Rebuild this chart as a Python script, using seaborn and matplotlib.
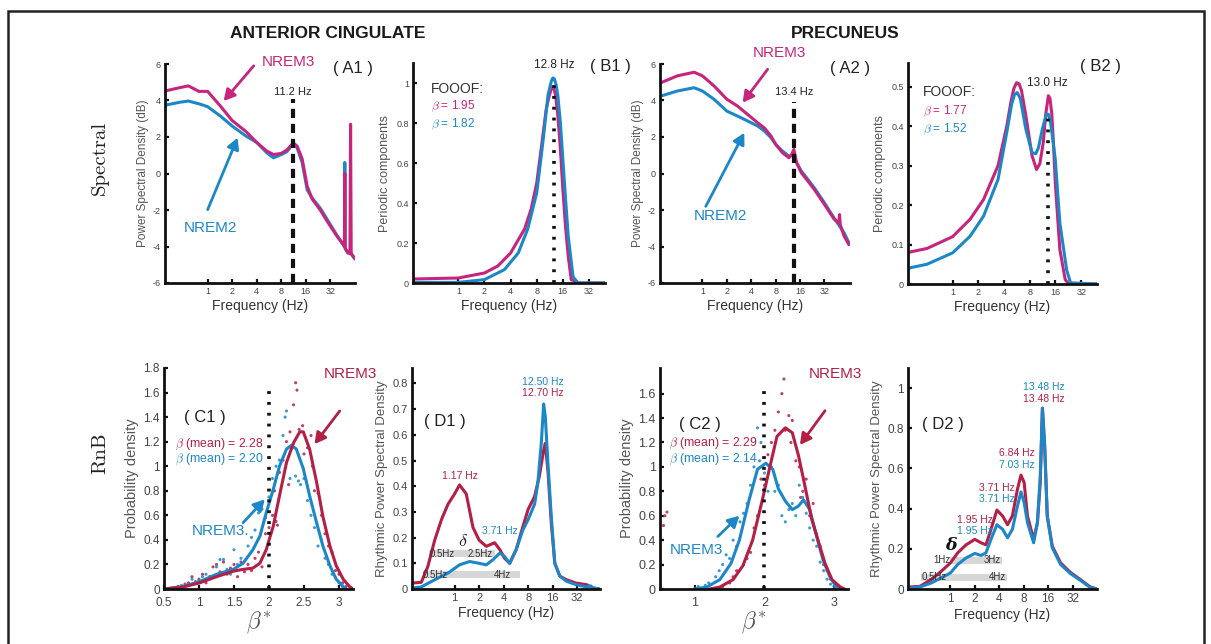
import matplotlib
matplotlib.use("Agg")
import matplotlib.pyplot as plt
import seaborn as sns
import pandas as pd
from matplotlib.patches import Rectangle

# ---------------- DATA ----------------
FREQ_TICKS = [1, 2, 4, 8, 16, 32]
FREQ_TICK_LABELS = ["1", "2", "4", "8", "16", "32"]
A_YTICKS = [-6, -4, -2, 0, 2, 4, 6]
B1_YTICKS = [0, 0.2, 0.4, 0.6, 0.8, 1]
B1_YTICK_LABELS = ["0", "0.2", "0.4", "0.6", "0.8", "1"]
B2_YTICKS = [0, 0.1, 0.2, 0.3, 0.4, 0.5]
B2_YTICK_LABELS = ["0", "0.1", "0.2", "0.3", "0.4", "0.5"]
C1_XTICKS = [0.5, 1, 1.5, 2, 2.5, 3]
C1_XTICK_LABELS = ["0.5", "1", "1.5", "2", "2.5", "3"]
C1_YTICKS = [0, 0.2, 0.4, 0.6, 0.8, 1, 1.2, 1.4, 1.6, 1.8]
C1_YTICK_LABELS = ["0", "0.2", "0.4", "0.6", "0.8", "1", "1.2", "1.4", "1.6", "1.8"]
C2_XTICKS = [1, 2, 3]
C2_XTICK_LABELS = ["1", "2", "3"]
C2_YTICKS = [0, 0.2, 0.4, 0.6, 0.8, 1, 1.2, 1.4, 1.6]
C2_YTICK_LABELS = ["0", "0.2", "0.4", "0.6", "0.8", "1", "1.2", "1.4", "1.6"]
D1_YTICKS = [0, 0.1, 0.2, 0.3, 0.4, 0.5, 0.6, 0.7, 0.8]
D1_YTICK_LABELS = ["0", "0.1", "0.2", "0.3", "0.4", "0.5", "0.6", "0.7", "0.8"]
D2_YTICKS = [0, 0.2, 0.4, 0.6, 0.8, 1]
D2_YTICK_LABELS = ["0", "0.2", "0.4", "0.6", "0.8", "1"]

# A1: anterior cingulate PSD (dB)
A1_N3_F = [0.30, 0.45, 0.58, 0.78, 1.0, 1.43, 2.0, 2.95, 4.0, 5.3, 6.4, 8.0, 9.4, 10.8, 11.6, 12.5, 14.4,
           16.6, 19.1, 24, 30, 38, 46, 47.5, 48, 48.5, 52, 55.5, 56.5, 57.5, 62]
A1_N3_V = [4.52, 4.7, 4.8, 4.5, 4.5, 3.7, 2.9, 2.3, 1.7, 1.23, 1.04, 1.1, 1.3, 1.6, 1.62, 1.5, 0.8,
           -0.7, -1.4, -2.0, -2.7, -3.4, -3.9, -4.0, 0.0, -4.1, -4.3, -4.4, 2.7, -4.4, -4.6]
A1_N2_F = [0.30, 0.45, 0.58, 0.81, 1.0, 1.43, 2.0, 2.95, 4.0, 5.3, 6.4, 8.0, 9.4, 10.8, 11.6, 12.5, 14.4,
           16.6, 19.1, 24, 30, 38, 46, 47.5, 48, 48.5, 52, 58, 64]
A1_N2_V = [3.74, 3.9, 3.97, 3.8, 3.66, 3.15, 2.6, 2.05, 1.7, 1.14, 0.86, 1.04, 1.2, 1.55, 1.6, 1.4, 0.6,
           -0.9, -1.34, -1.9, -2.6, -3.35, -3.9, -4.0, 0.6, -4.1, -4.35, -4.4, -4.7]
A1_PEAK = 11.2

# B1: FOOOF periodic components
B1_N3_F = [0.3, 1, 2, 2.85, 4, 5.8, 6.9, 8, 9, 10.3, 11.2, 11.8, 12.2, 12.6, 13.2, 14, 15, 16, 17.2, 18.5,
           20, 24, 50]
B1_N3_V = [0.02, 0.025, 0.05, 0.085, 0.15, 0.27, 0.37, 0.5, 0.67, 0.87, 0.94, 0.97, 0.98, 0.975, 0.94, 0.84,
           0.67, 0.47, 0.28, 0.13, 0.017, 0.0, 0.0]
B1_N2_F = [0.3, 1, 2, 3.4, 4.9, 6.3, 8, 9.4, 10.8, 11.8, 12.3, 12.8, 13.4, 14, 15, 16, 17.2, 18.5, 21, 24, 50]
B1_N2_V = [0.003, 0.003, 0.017, 0.067, 0.15, 0.27, 0.45, 0.7, 0.94, 1.01, 1.025, 1.02, 0.99, 0.94, 0.8, 0.62,
           0.42, 0.23, 0.03, 0.0, 0.0]
B1_PEAK = 12.8

# A2: precuneus PSD (dB)
A2_N3_F = [0.31, 0.49, 0.79, 1.0, 1.39, 2.0, 2.7, 3.6, 4.8, 5.8, 7.0, 8.0, 9.7, 11.7, 12.6, 13.4, 14.5,
           16.6, 20, 24, 32, 42, 48, 49, 50, 56, 64]
A2_N3_V = [4.98, 5.35, 5.55, 5.35, 4.8, 4.07, 3.7, 3.24, 2.78, 2.5, 2.05, 1.6, 1.14, 0.86, 1.04, 1.32, 0.59,
           0.04, -0.42, -0.88, -1.7, -2.5, -2.7, -2.25, -2.8, -3.44, -3.9]
A2_N2_F = [0.31, 0.49, 0.79, 1.0, 1.39, 2.0, 2.7, 3.6, 4.8, 5.8, 7.0, 8.0, 9.7, 11.7, 12.6, 13.4, 14.5,
           16.6, 20, 24, 32, 42, 56, 64]
A2_N2_V = [4.25, 4.52, 4.7, 4.52, 4.07, 3.42, 3.15, 2.88, 2.6, 2.33, 1.96, 1.6, 1.23, 0.95, 0.99, 0.95, 0.59,
           0.13, -0.33, -0.79, -1.61, -2.44, -3.26, -3.8]
A2_PEAK = 13.4

# B2: FOOOF periodic components (precuneus)
B2_N3_F = [0.3, 0.5, 1, 1.6, 2.3, 3.4, 4.3, 4.8, 5.2, 5.6, 6.0, 6.4, 7.2, 8.5, 9.6, 10.5, 11.5, 12.3, 13.2,
           13.8, 14.5, 15.2, 15.9, 18, 20.8, 23, 50]
B2_N3_V = [0.08, 0.09, 0.12, 0.164, 0.214, 0.3, 0.4, 0.46, 0.495, 0.51, 0.507, 0.49, 0.426, 0.325, 0.29,
           0.305, 0.358, 0.43, 0.477, 0.47, 0.43, 0.35, 0.257, 0.087, 0.011, 0.0, 0.0]
B2_N2_F = [0.3, 0.5, 1, 1.6, 2.3, 3.4, 4.3, 4.9, 5.3, 5.7, 6.2, 7.2, 8.5, 9.4, 10.1, 11.3, 12.5, 13.2,
           13.9, 14.8, 15.9, 18, 21.6, 24, 50]
B2_N2_V = [0.04, 0.05, 0.079, 0.121, 0.172, 0.265, 0.384, 0.455, 0.48, 0.485, 0.47, 0.392, 0.333, 0.33,
           0.345, 0.395, 0.43, 0.43, 0.415, 0.37, 0.316, 0.155, 0.036, 0.003, 0.0]
B2_PEAK = 13.0

# C1: beta* distributions (anterior cingulate)
C1_N3_X = [0.5, 0.77, 1.01, 1.25, 1.49, 1.63, 1.77, 1.87, 1.96, 2.06, 2.15, 2.25, 2.35, 2.44, 2.49, 2.58,
           2.68, 2.77, 2.87, 2.96, 3.06, 3.15, 3.2]
C1_N3_Y = [0.0, 0.016, 0.05, 0.1, 0.145, 0.16, 0.17, 0.21, 0.32, 0.51, 0.76, 1.03, 1.19, 1.28, 1.28, 1.14,
           0.87, 0.59, 0.35, 0.19, 0.08, 0.02, 0.0]
C1_N2_X = [0.5, 0.77, 1.01, 1.25, 1.49, 1.63, 1.77, 1.87, 1.96, 2.06, 2.15, 2.25, 2.32, 2.39, 2.49, 2.58,
           2.68, 2.77, 2.87, 2.96, 3.06, 3.1]
C1_N2_Y = [0.0, 0.02, 0.06, 0.12, 0.16, 0.21, 0.32, 0.43, 0.62, 0.81, 1.0, 1.14, 1.17, 1.14, 0.98, 0.76,
           0.54, 0.35, 0.19, 0.08, 0.02, 0.0]
C1_N3_DOT_X = [0.6, 0.7, 0.75, 0.8, 0.85, 0.9, 0.95, 1.0, 1.05, 1.1, 1.15, 1.2, 1.25, 1.3, 1.35, 1.4, 1.45,
               1.5, 1.55, 1.6, 1.65, 1.7, 1.75, 1.8, 1.85, 1.9, 1.95, 2.0, 2.05, 2.08, 2.1, 2.12, 2.15, 2.2,
               2.25, 2.28, 2.3, 2.35, 2.38, 2.4, 2.43, 2.48, 2.5, 2.55, 2.6, 2.62, 2.65, 2.7, 2.75, 2.8,
               2.85, 2.9, 2.95, 3.0, 3.05, 3.1]
C1_N3_DOT_Y = [0.0, 0.02, 0.0, 0.04, 0.05, 0.1, 0.06, 0.08, 0.12, 0.05, 0.1, 0.18, 0.2, 0.14, 0.22, 0.12,
               0.17, 0.2, 0.1, 0.22, 0.14, 0.2, 0.15, 0.25, 0.3, 0.18, 0.45, 0.5, 0.6, 0.8, 0.55, 0.52, 0.95,
               1.05, 1.2, 0.85, 1.28, 1.5, 1.68, 1.62, 1.3, 1.33, 1.1, 1.15, 1.25, 1.0, 0.8, 0.78, 0.6,
               0.45, 0.35, 0.3, 0.15, 0.12, 0.05, 0.02]
C1_N2_DOT_X = [0.55, 0.65, 0.75, 0.85, 0.9, 1.0, 1.05, 1.1, 1.2, 1.25, 1.3, 1.35, 1.4, 1.45, 1.5, 1.55, 1.6,
               1.7, 1.75, 1.8, 1.85, 1.9, 1.95, 2.0, 2.05, 2.1, 2.15, 2.2, 2.23, 2.25, 2.3, 2.33, 2.38, 2.42,
               2.45, 2.5, 2.55, 2.6, 2.65, 2.7, 2.75, 2.8, 2.85, 2.9, 3.0, 3.05]
C1_N2_DOT_Y = [0.0, 0.01, 0.03, 0.04, 0.08, 0.07, 0.1, 0.12, 0.1, 0.18, 0.24, 0.24, 0.16, 0.12, 0.32, 0.2,
               0.25, 0.35, 0.42, 0.48, 0.62, 0.65, 0.58, 0.75, 0.9, 1.0, 1.05, 1.25, 1.4, 1.45, 0.9, 1.15,
               0.92, 0.88, 0.85, 0.9, 0.72, 0.6, 0.5, 0.35, 0.4, 0.25, 0.2, 0.12, 0.05, 0.02]
C1_N3_MEAN = "2.28"
C1_N2_MEAN = "2.20"

# D1: rhythmic power spectral density (anterior cingulate)
D1_N3_F = [0.3, 0.39, 0.47, 0.57, 0.69, 0.83, 1.0, 1.15, 1.39, 1.68, 2.0, 2.45, 3.1, 3.6, 4.1, 4.75, 5.7,
           6.9, 8.0, 9.6, 11.0, 12.4, 13.0, 14.0, 15.4, 17.0, 19.6, 23.7, 31, 41.6, 50, 61]
D1_N3_V = [0.023, 0.026, 0.088, 0.19, 0.27, 0.33, 0.37, 0.405, 0.37, 0.24, 0.19, 0.166, 0.18, 0.153, 0.12,
           0.1, 0.153, 0.243, 0.31, 0.36, 0.44, 0.54, 0.567, 0.46, 0.256, 0.1, 0.05, 0.036, 0.023, 0.017,
           0.004, 0.0]
D1_N2_F = [0.3, 0.39, 0.57, 0.83, 1.15, 1.53, 2.0, 2.45, 2.96, 3.6, 4.1, 4.75, 5.7, 6.9, 8.0, 9.6, 10.5,
           11.6, 12.4, 13.0, 14.0, 15.4, 17.0, 19.6, 23.7, 31, 41.6, 47, 50, 61]
D1_N2_V = [0.004, 0.008, 0.036, 0.062, 0.094, 0.107, 0.1, 0.094, 0.114, 0.14, 0.127, 0.1, 0.153, 0.23,
           0.27, 0.33, 0.41, 0.567, 0.72, 0.67, 0.49, 0.28, 0.1, 0.05, 0.03, 0.017, 0.008, 0.012, 0.004, 0.0]
D1_BAND_LO = [0.49, 0.41]
D1_BAND_HI = [3.1, 6.3]
D1_BAND_Y = [0.137, 0.056]

# C2: beta* distributions (precuneus)
C2_N3_X = [1.21, 1.36, 1.55, 1.69, 1.83, 1.97, 2.09, 2.18, 2.3, 2.4, 2.49, 2.59, 2.68, 2.78, 2.87, 2.97,
           3.09, 3.15]
C2_N3_Y = [0.0, 0.016, 0.077, 0.19, 0.4, 0.73, 1.03, 1.25, 1.32, 1.28, 1.09, 0.82, 0.57, 0.38, 0.21, 0.077,
           0.016, 0.0]
C2_N2_X = [1.0, 1.17, 1.36, 1.52, 1.64, 1.78, 1.9, 2.02, 2.12, 2.2, 2.3, 2.4, 2.49, 2.56, 2.65, 2.75, 2.84,
           2.94, 3.03, 3.12]
C2_N2_Y = [0.0, 0.016, 0.077, 0.21, 0.4, 0.73, 0.98, 1.03, 0.98, 0.82, 0.72, 0.65, 0.68, 0.73, 0.65, 0.43,
           0.24, 0.1, 0.02, 0.0]
C2_N3_DOT_X = [0.55, 0.57, 0.6, 1.3, 1.4, 1.5, 1.55, 1.6, 1.7, 1.75, 1.8, 1.85, 1.9, 1.95, 2.0, 2.05, 2.1,
               2.15, 2.2, 2.25, 2.28, 2.3, 2.35, 2.38, 2.4, 2.45, 2.5, 2.52, 2.55, 2.6, 2.65, 2.7, 2.72,
               2.75, 2.8, 2.85, 2.9, 2.95, 3.0, 3.05]
C2_N3_DOT_Y = [0.52, 0.6, 0.63, 0.0, 0.02, 0.05, 0.1, 0.15, 0.2, 0.25, 0.3, 0.5, 0.6, 0.9, 0.85, 1.1, 1.2,
               1.3, 1.45, 1.6, 1.72, 1.3, 1.42, 1.2, 1.38, 1.05, 1.0, 0.75, 0.8, 0.9, 0.6, 0.7, 0.5, 0.45,
               0.35, 0.2, 0.15, 0.08, 0.05, 0.02]
C2_N2_DOT_X = [1.0, 1.05, 1.1, 1.15, 1.2, 1.3, 1.35, 1.4, 1.45, 1.5, 1.55, 1.6, 1.65, 1.7, 1.75, 1.8, 1.85,
               1.9, 1.93, 1.95, 2.0, 2.05, 2.1, 2.15, 2.2, 2.25, 2.3, 2.35, 2.4, 2.45, 2.5, 2.55, 2.6, 2.65,
               2.7, 2.75, 2.8, 2.85, 2.9, 2.95, 3.0]
C2_N2_DOT_Y = [0.0, 0.02, 0.0, 0.03, 0.05, 0.1, 0.15, 0.2, 0.28, 0.25, 0.4, 0.35, 0.55, 0.62, 0.7, 0.85,
               1.0, 1.32, 1.05, 1.2, 0.95, 0.8, 1.0, 0.8, 0.85, 0.6, 0.55, 0.65, 0.7, 0.6, 0.85, 0.75, 0.62,
               0.5, 0.4, 0.35, 0.22, 0.15, 0.08, 0.04, 0.02]
C2_N3_MEAN = "2.29"
C2_N2_MEAN = "2.14"

# D2: rhythmic power spectral density (precuneus)
D2_N3_F = [0.3, 0.42, 0.58, 0.77, 1.0, 1.23, 1.56, 2.0, 2.38, 2.74, 3.16, 3.74, 4.4, 5.05, 5.8, 6.7, 7.4,
           8.1, 8.9, 10.6, 11.8, 12.8, 13.6, 14.5, 15.6, 18, 22.8, 30, 40, 53, 64]
D2_N3_V = [0.01, 0.013, 0.047, 0.088, 0.13, 0.18, 0.22, 0.247, 0.23, 0.22, 0.297, 0.393, 0.363, 0.32, 0.363,
           0.497, 0.567, 0.53, 0.363, 0.247, 0.33, 0.53, 0.9, 0.713, 0.363, 0.213, 0.13, 0.083, 0.047,
           0.01, 0.0]
D2_N2_F = [0.3, 0.42, 0.58, 0.77, 1.0, 1.23, 1.56, 2.0, 2.38, 2.74, 3.16, 3.74, 4.4, 5.05, 5.8, 6.7, 7.4,
           8.1, 8.9, 10.6, 11.8, 12.8, 13.6, 14.5, 15.6, 18, 22.8, 30, 40, 53, 64]
D2_N2_V = [0.005, 0.01, 0.03, 0.055, 0.08, 0.122, 0.155, 0.177, 0.167, 0.18, 0.247, 0.32, 0.297, 0.255,
           0.297, 0.413, 0.483, 0.43, 0.33, 0.23, 0.33, 0.563, 0.9, 0.713, 0.363, 0.205, 0.122, 0.077,
           0.043, 0.007, 0.0]
D2_BAND_LO = [1.0, 0.44]
D2_BAND_HI = [4.3, 5.0]
D2_BAND_Y = [0.142, 0.058]

# ---------------- STYLE ----------------
sns.set_theme(style="ticks")
plt.rcParams["font.family"] = ["Liberation Sans", "DejaVu Sans"]
plt.rcParams["mathtext.fontset"] = "cm"
plt.rcParams["axes.unicode_minus"] = False
plt.rcParams["xtick.direction"] = "in"
plt.rcParams["ytick.direction"] = "in"

MAG = "#C8247C"
BLU = "#1C87C8"
RED = "#B41F45"
BLK = "#111111"
GRY = "#555555"

W, H = 1211, 644
fig = plt.figure(figsize=(W / 100, H / 100), dpi=100)
fig.patch.set_facecolor("white")


def axes_px(x0, x1, y0, y1):
    return fig.add_axes([x0 / W, 1 - y1 / H, (x1 - x0) / W, (y1 - y0) / H])


def style_ax(ax, tick_fs, xpad=3):
    sns.despine(ax=ax)
    for s in ("left", "bottom"):
        ax.spines[s].set_linewidth(2.0)
        ax.spines[s].set_color(BLK)
    ax.tick_params(axis="both", which="major", length=3, width=1.6, color=BLK,
                   labelsize=tick_fs, labelcolor="#444444", pad=3)
    ax.tick_params(axis="x", pad=xpad)
    ax.tick_params(which="minor", length=0)
    ax.set_facecolor("white")
    ax.grid(False)


def freq_axis(ax, xlim):
    ax.set_xscale("log", base=2)
    ax.set_xlim(*xlim)
    ax.set_xticks(FREQ_TICKS)
    ax.set_xticklabels(FREQ_TICK_LABELS)
    ax.minorticks_off()


def line(ax, x, y, color, lw=2.2):
    df = pd.DataFrame({"x": x, "y": y})
    sns.lineplot(data=df, x="x", y="y", ax=ax, color=color, lw=lw, sort=False, estimator=None)
    ax.set_xlabel("")
    ax.set_ylabel("")


def arrow(ax, tail, head, color):
    ax.annotate("", xy=head, xytext=tail, annotation_clip=False,
                arrowprops=dict(arrowstyle="-|>,head_length=0.55,head_width=0.3", color=color, lw=2.0,
                                shrinkA=0, shrinkB=0))


# ---------- A1 ----------
ax = axes_px(165, 355, 64, 283)
line(ax, A1_N2_F, A1_N2_V, BLU)
line(ax, A1_N3_F, A1_N3_V, MAG)
freq_axis(ax, (0.3, 64))
ax.set_ylim(-6, 6)
ax.set_yticks(A_YTICKS)
style_ax(ax, 6.5)
ax.vlines(A1_PEAK, -6, 4.1, colors=BLK, lw=3, linestyles=(0, (2.2, 1.4)))
ax.text(A1_PEAK, 4.45, "11.2 Hz", ha="center", va="center", fontsize=8, color="#222222")
ax.text(9.9, 6.1, "NREM3", ha="center", va="center", fontsize=11, color=MAG, clip_on=False)
arrow(ax, (3.67, 5.9), (1.57, 3.97), MAG)
ax.text(1.08, -3.0, "NREM2", ha="center", va="center", fontsize=11, color=BLU)
arrow(ax, (1.0, -1.98), (2.33, 1.96), BLU)
ax.set_ylabel("Power Spectral Density (dB)", fontsize=8.5, color=GRY, labelpad=3)
ax.set_xlabel("Frequency (Hz)", fontsize=10, color="#333333", labelpad=2)
fig.text(353 / W, 1 - 68 / H, "( A1 )", ha="center", va="center", fontsize=12, color="#222222")

# ---------- B1 ----------
ax = axes_px(413, 605, 63, 283)
line(ax, B1_N3_F, B1_N3_V, MAG)
line(ax, B1_N2_F, B1_N2_V, BLU)
freq_axis(ax, (0.3, 49))
ax.set_ylim(0, 1.1)
ax.set_yticks(B1_YTICKS)
ax.set_yticklabels(B1_YTICK_LABELS)
style_ax(ax, 6.5)
ax.vlines(B1_PEAK, 0, 1.0, colors=BLK, lw=2.6, linestyles=(0, (0.8, 2.2)))
ax.text(B1_PEAK, 1.09, "12.8 Hz", ha="center", va="center", fontsize=8.5, color="#222222", clip_on=False)
ax.text(0.48, 0.97, "FOOOF:", ha="left", va="center", fontsize=10, color="#333333")
ax.text(0.48, 0.885, r"$\beta$ = 1.95", ha="left", va="center", fontsize=8.5, color=MAG)
ax.text(0.48, 0.795, r"$\beta$ = 1.82", ha="left", va="center", fontsize=8.5, color=BLU)
ax.set_ylabel("Periodic components", fontsize=9, color=GRY, labelpad=4)
ax.set_xlabel("Frequency (Hz)", fontsize=10, color="#333333", labelpad=2)
fig.text(610 / W, 1 - 67 / H, "( B1 )", ha="center", va="center", fontsize=12, color="#222222")

# ---------- A2 ----------
ax = axes_px(660, 850, 64, 283)
line(ax, A2_N2_F, A2_N2_V, BLU)
line(ax, A2_N3_F, A2_N3_V, MAG)
freq_axis(ax, (0.3, 66))
ax.set_ylim(-6, 6)
ax.set_yticks(A_YTICKS)
style_ax(ax, 6.5)
ax.vlines(A2_PEAK, -6, 3.9, colors=BLK, lw=3, linestyles=(0, (2.2, 1.4)))
ax.text(A2_PEAK, 4.45, "13.4 Hz", ha="center", va="center", fontsize=8, color="#222222")
ax.text(8.9, 6.6, "NREM3", ha="center", va="center", fontsize=11, color=MAG, clip_on=False)
arrow(ax, (6.37, 5.71), (3.13, 3.88), MAG)
ax.text(1.69, -2.34, "NREM2", ha="center", va="center", fontsize=11, color=BLU)
arrow(ax, (1.1, -1.8), (3.28, 2.23), BLU)
ax.set_ylabel("Power Spectral Density (dB)", fontsize=8.5, color=GRY, labelpad=3)
ax.set_xlabel("Frequency (Hz)", fontsize=10, color="#333333", labelpad=2)
fig.text(850 / W, 1 - 68 / H, "( A2 )", ha="center", va="center", fontsize=12, color="#222222")

# ---------- B2 ----------
ax = axes_px(908, 1097, 63, 284)
line(ax, B2_N3_F, B2_N3_V, MAG)
line(ax, B2_N2_F, B2_N2_V, BLU)
freq_axis(ax, (0.3, 49))
ax.set_ylim(0, 0.56)
ax.set_yticks(B2_YTICKS)
ax.set_yticklabels(B2_YTICK_LABELS)
style_ax(ax, 6.5)
ax.vlines(B2_PEAK, 0, 0.42, colors=BLK, lw=2.6, linestyles=(0, (0.8, 2.2)))
ax.text(B2_PEAK, 0.51, "13.0 Hz", ha="center", va="center", fontsize=8.5, color="#222222")
ax.text(0.45, 0.487, "FOOOF:", ha="left", va="center", fontsize=10, color="#333333")
ax.text(0.45, 0.437, r"$\beta$ = 1.77", ha="left", va="center", fontsize=8.5, color=MAG)
ax.text(0.45, 0.393, r"$\beta$ = 1.52", ha="left", va="center", fontsize=8.5, color=BLU)
ax.set_ylabel("Periodic components", fontsize=9, color=GRY, labelpad=4)
ax.set_xlabel("Frequency (Hz)", fontsize=10, color="#333333", labelpad=2)
fig.text(1100 / W, 1 - 66 / H, "( B2 )", ha="center", va="center", fontsize=12, color="#222222")


# ---------- C panels ----------
def c_panel(x0, x1, nx, ny, n2x, n2y, d3x, d3y, d2x, d2y, ylim, yt, ytl, xt, xtl, tick_fs):
    ax = axes_px(x0, x1, 368, 589)
    sns.scatterplot(x=d3x, y=d3y, ax=ax, color=RED, s=5, edgecolor="none", alpha=0.85)
    sns.scatterplot(x=d2x, y=d2y, ax=ax, color=BLU, s=5, edgecolor="none", alpha=0.85)
    line(ax, n2x, n2y, BLU)
    line(ax, nx, ny, RED)
    ax.set_xlim(0.5, 3.2)
    ax.set_ylim(*ylim)
    ax.set_xticks(xt)
    ax.set_xticklabels(xtl)
    ax.set_yticks(yt)
    ax.set_yticklabels(ytl)
    style_ax(ax, tick_fs, xpad=6)
    ax.vlines(2, 0, 1.66, colors=BLK, lw=2.6, linestyles=(0, (0.8, 2.2)))
    ax.set_ylabel("Probability density", fontsize=10.5, color=GRY, labelpad=3)
    ax.set_xlabel(r"$\beta^{*}$", fontsize=17, color="#555555", labelpad=0)
    return ax


ax = c_panel(164, 353, C1_N3_X, C1_N3_Y, C1_N2_X, C1_N2_Y, C1_N3_DOT_X, C1_N3_DOT_Y, C1_N2_DOT_X,
             C1_N2_DOT_Y, (0, 1.8), C1_YTICKS, C1_YTICK_LABELS, C1_XTICKS, C1_XTICK_LABELS, 8.5)
ax.text(1.09, 1.4, "( C1 )", ha="center", va="center", fontsize=12, color="#222222")
ax.text(1.92, 1.18, r"$\beta$ (mean) = " + C1_N3_MEAN, ha="right", va="center", fontsize=8.8, color=RED)
ax.text(1.92, 1.06, r"$\beta$ (mean) = " + C1_N2_MEAN, ha="right", va="center", fontsize=8.8, color=BLU)
ax.text(2.78, 1.75, "NREM3", ha="left", va="center", fontsize=11, color=RED, clip_on=False)
arrow(ax, (3.01, 1.45), (2.65, 1.18), RED)
ax.text(1.31, 0.47, "NREM3.", ha="center", va="center", fontsize=11, color=BLU)
arrow(ax, (1.63, 0.54), (1.94, 0.73), BLU)

ax = c_panel(660, 848, C2_N3_X, C2_N3_Y, C2_N2_X, C2_N2_Y, C2_N3_DOT_X, C2_N3_DOT_Y, C2_N2_DOT_X,
             C2_N2_DOT_Y, (0, 1.81), C2_YTICKS, C2_YTICK_LABELS, C2_XTICKS, C2_XTICK_LABELS, 9)
ax.text(1.08, 1.35, "( C2 )", ha="center", va="center", fontsize=12, color="#222222")
ax.text(1.9, 1.19, r"$\beta$ (mean) = " + C2_N3_MEAN, ha="right", va="center", fontsize=8.8, color=RED)
ax.text(1.9, 1.06, r"$\beta$ (mean) = " + C2_N2_MEAN, ha="right", va="center", fontsize=8.8, color=BLU)
ax.text(2.64, 1.76, "NREM3", ha="left", va="center", fontsize=11, color=RED, clip_on=False)
arrow(ax, (2.87, 1.46), (2.51, 1.18), RED)
ax.text(1.02, 0.32, "NREM3", ha="center", va="center", fontsize=11, color=BLU)
arrow(ax, (1.33, 0.43), (1.64, 0.6), BLU)


# ---------- D panels ----------
def bands(ax, lo, hi, yc, h, labels):
    for i in range(len(lo)):
        ax.barh(yc[i], hi[i] - lo[i], left=lo[i], height=h, color="#BDBDBD", alpha=0.6, edgecolor="none",
                zorder=1)
        ax.text(labels[i][3], yc[i], labels[i][0], ha=labels[i][4], va="center", fontsize=7,
                color="#333333", zorder=3)
        ax.text(labels[i][2], yc[i], labels[i][1], ha="right", va="center", fontsize=7, color="#333333",
                zorder=3)


ax = axes_px(412, 600, 368, 589)
line(ax, D1_N3_F, D1_N3_V, RED)
line(ax, D1_N2_F, D1_N2_V, BLU)
freq_axis(ax, (0.3, 61))
ax.set_ylim(0, 0.86)
ax.set_yticks(D1_YTICKS)
ax.set_yticklabels(D1_YTICK_LABELS)
style_ax(ax, 8)
bands(ax, D1_BAND_LO, D1_BAND_HI, D1_BAND_Y, 0.028,
      [("0.5Hz", "2.5Hz", 2.96, 0.49, "left"), ("0.5Hz", "4Hz", 5.0, 0.41, "left")])
ax.text(1.27, 0.185, r"$\delta$", ha="center", va="center", fontsize=13, color="#222222")
ax.text(12.2, 0.806, "12.50 Hz", ha="center", va="center", fontsize=7.5, color=BLU, clip_on=False)
ax.text(12.2, 0.764, "12.70 Hz", ha="center", va="center", fontsize=7.5, color=RED)
ax.text(1.17, 0.44, "1.17 Hz", ha="center", va="center", fontsize=7.5, color=RED)
ax.text(3.58, 0.224, "3.71 Hz", ha="center", va="center", fontsize=7.5, color=BLU)
ax.text(0.77, 0.65, "( D1 )", ha="center", va="center", fontsize=12, color="#222222")
ax.set_ylabel("Rhythmic Power Spectral Density", fontsize=9.5, color=GRY, labelpad=3)
ax.set_xlabel("Frequency (Hz)", fontsize=10, color="#333333", labelpad=2)

ax = axes_px(908, 1097, 368, 589)
line(ax, D2_N3_F, D2_N3_V, RED)
line(ax, D2_N2_F, D2_N2_V, BLU)
freq_axis(ax, (0.3, 64))
ax.set_ylim(0, 1.1)
ax.set_yticks(D2_YTICKS)
ax.set_yticklabels(D2_YTICK_LABELS)
style_ax(ax, 8.5)
bands(ax, D2_BAND_LO, D2_BAND_HI, D2_BAND_Y, 0.036,
      [("1Hz", "3Hz", 4.2, 1.0, "right"), ("0.5Hz", "4Hz", 4.9, 0.44, "left")])
ax.text(1.02, 0.215, "δ", ha="center", va="center", fontsize=12.5, color="#111111", fontweight="bold",
        fontstyle="italic", family="DejaVu Serif")
ax.text(14.3, 1.005, "13.48 Hz", ha="center", va="center", fontsize=7.5, color=BLU)
ax.text(14.3, 0.947, "13.48 Hz", ha="center", va="center", fontsize=7.5, color=RED)
ax.text(6.5, 0.677, "6.84 Hz", ha="center", va="center", fontsize=7.5, color=RED)
ax.text(6.5, 0.617, "7.03 Hz", ha="center", va="center", fontsize=7.5, color=BLU)
ax.text(3.74, 0.505, "3.71 Hz", ha="center", va="center", fontsize=7.5, color=RED)
ax.text(3.74, 0.447, "3.71 Hz", ha="center", va="center", fontsize=7.5, color=BLU)
ax.text(2.0, 0.343, "1.95 Hz", ha="center", va="center", fontsize=7.5, color=RED)
ax.text(2.0, 0.288, "1.95 Hz", ha="center", va="center", fontsize=7.5, color=BLU)
ax.text(0.8, 0.82, "( D2 )", ha="center", va="center", fontsize=12, color="#222222")
ax.set_ylabel("Rhythmic Power Spectral Density", fontsize=9.5, color=GRY, labelpad=3)
ax.set_xlabel("Frequency (Hz)", fontsize=10, color="#333333", labelpad=2)

# ---------- figure-level text & frame ----------
fig.text(328 / W, 1 - 33 / H, "ANTERIOR CINGULATE", ha="center", va="center", fontsize=12.5,
         fontweight="bold", color="#1a1a1a")
fig.text(845 / W, 1 - 33 / H, "PRECUNEUS", ha="center", va="center", fontsize=12.5,
         fontweight="bold", color="#1a1a1a")
fig.text(100 / W, 1 - 158 / H, "Spectral", ha="center", va="center", rotation=90, fontsize=15,
         family="cmr10", color="#222222")
fig.text(100 / W, 1 - 453 / H, "RnB", ha="center", va="center", rotation=90, fontsize=15,
         family="cmr10", color="#222222")
fig.patches.append(Rectangle((8 / W, -0.05), (1204 - 8) / W, 1.05 - 11 / H, transform=fig.transFigure,
                             fill=False, lw=1.8, edgecolor="#222222"))

fig.savefig("out.png", dpi=100, facecolor="white")
